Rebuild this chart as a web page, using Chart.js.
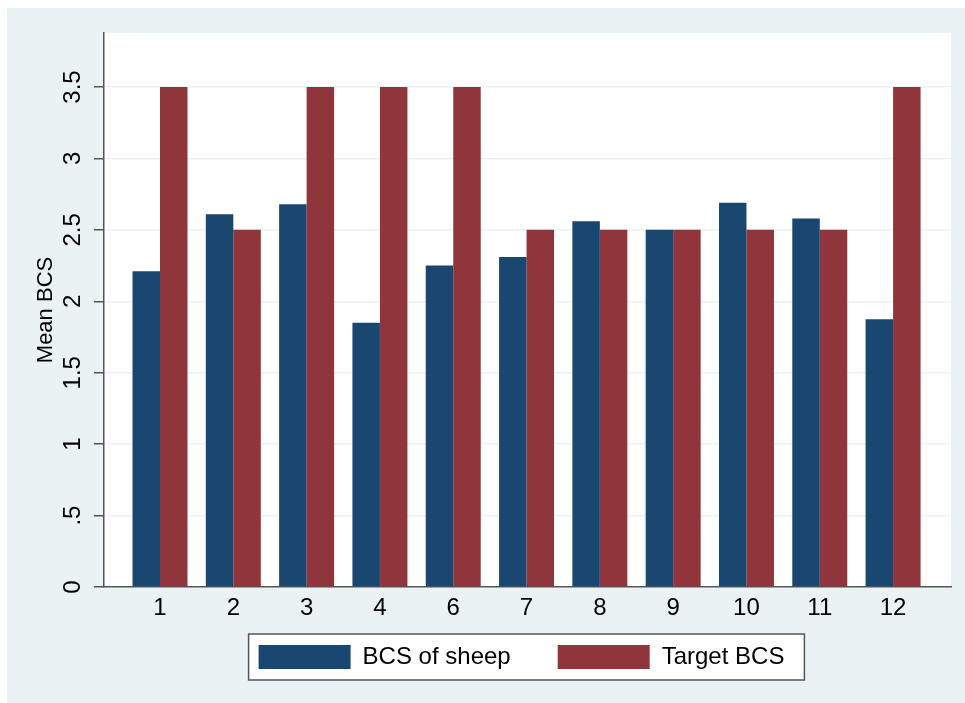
<!DOCTYPE html>
<html>
<head>
<meta charset="utf-8">
<script src="https://cdn.jsdelivr.net/npm/chart.js@4/dist/chart.umd.min.js"></script>
<style>
  html, body { margin: 0; padding: 0; background: #ffffff; }
  #wrap { width: 965px; height: 703px; }
</style>
</head>
<body>
<div id="wrap"><canvas id="c" width="965" height="703"></canvas></div>
<script>
const categories = ['1', '2', '3', '4', '6', '7', '8', '9', '10', '11', '12'];
const bcsOfSheep = [2.21, 2.61, 2.68, 1.85, 2.25, 2.31, 2.56, 2.5, 2.69, 2.58, 1.875];
const targetBCS = [3.5, 2.5, 3.5, 3.5, 3.5, 2.5, 2.5, 2.5, 2.5, 2.5, 3.5];
const yTicks = [0, 0.5, 1, 1.5, 2, 2.5, 3, 3.5];
const yTickLabels = ['0', '.5', '1', '1.5', '2', '2.5', '3', '3.5'];
const seriesNames = ['BCS of sheep', 'Target BCS'];

const FONT = '"Liberation Sans", Arial, Helvetica, sans-serif';
const BG = '#eaf2f3';
const AXIS = '#555555';

const bgPlugin = {
  id: 'bgPlugin',
  afterLayout(chart) {
    const lg = chart.legend;
    if (lg) {
      lg.top -= 24; lg.bottom -= 24;
      lg.left -= 6; lg.right -= 6;
    }
  },
  beforeDraw(chart) {
    const ctx = chart.ctx;
    const a = chart.chartArea;
    ctx.save();
    ctx.fillStyle = '#ffffff';
    ctx.fillRect(0, 0, chart.width, chart.height);
    ctx.fillStyle = BG;
    ctx.fillRect(7, 8, chart.width - 7, chart.height - 8);
    ctx.fillStyle = '#ffffff';
    ctx.fillRect(a.left, a.top, a.right - a.left, a.bottom - a.top);
    const lg = chart.legend;
    const hb = lg && lg.legendHitBoxes;
    if (hb && hb.length) {
      const pad = lg.options.labels.padding;
      const first = hb[0], last = hb[hb.length - 1];
      const itemTop = lg.top + pad;
      const l = first.left - 10, r = last.left + last.width + 20;
      const t = itemTop - 11, b = itemTop + first.height + 11;
      ctx.fillStyle = '#ffffff';
      ctx.fillRect(l, t, r - l, b - t);
      ctx.strokeStyle = AXIS;
      ctx.lineWidth = 1.5;
      ctx.strokeRect(l, t, r - l, b - t);
    }
    ctx.restore();
  }
};

const toXY = arr => arr.map((v, i) => ({ x: i + 1, y: v }));

new Chart(document.getElementById('c'), {
  type: 'bar',
  data: {
    datasets: [
      { label: seriesNames[0], data: toXY(bcsOfSheep), backgroundColor: '#1a476f', borderWidth: 0 },
      { label: seriesNames[1], data: toXY(targetBCS), backgroundColor: '#90353b', borderWidth: 0 }
    ]
  },
  options: {
    responsive: false,
    animation: false,
    devicePixelRatio: 1,
    layout: { padding: { top: 33, right: 14, left: 0, bottom: 0 } },
    datasets: { bar: { categoryPercentage: 0.75, barPercentage: 1.0 } },
    plugins: {
      tooltip: { enabled: false },
      legend: {
        position: 'bottom',
        fullSize: false,
        labels: {
          boxWidth: 92,
          boxHeight: 24,
          padding: 47,
          color: '#000000',
          font: { family: FONT, size: 24 }
        }
      }
    },
    scales: {
      x: {
        type: 'linear',
        offset: false,
        min: 0.236,
        max: 11.79,
        bounds: 'data',
        afterBuildTicks(scale) { scale.ticks = categories.map((c, i) => ({ value: i + 1 })); },
        afterFit(scale) { scale.height = 35; },
        grid: { display: false, drawTicks: false, offset: false },
        border: { display: true, color: AXIS, width: 1.5 },
        ticks: {
          display: true,
          padding: 7,
          autoSkip: false,
          maxRotation: 0,
          minRotation: 0,
          color: '#000000',
          font: { family: FONT, size: 24 },
          callback: v => categories[Math.round(v) - 1] ?? ''
        }
      },
      y: {
        min: 0,
        max: 3.878,
        afterBuildTicks(scale) { scale.ticks = yTicks.map(v => ({ value: v })); },
        afterFit(scale) { scale.width = 104; },
        grid: { color: BG, lineWidth: 1.5, tickColor: AXIS, tickLength: 10, drawTicks: true },
        border: { display: true, color: AXIS, width: 1.5 },
        title: {
          display: true,
          text: 'Mean BCS',
          color: '#000000',
          font: { family: FONT, size: 22 },
          padding: { top: 33, bottom: 0 }
        },
        ticks: {
          minRotation: 90,
          maxRotation: 90,
          crossAlign: 'center',
          padding: 4,
          color: '#000000',
          font: { family: FONT, size: 24 },
          callback: (v) => { const i = yTicks.indexOf(v); return i >= 0 ? yTickLabels[i] : ''; }
        }
      }
    }
  },
  plugins: [bgPlugin]
});
</script>
</body>
</html>
